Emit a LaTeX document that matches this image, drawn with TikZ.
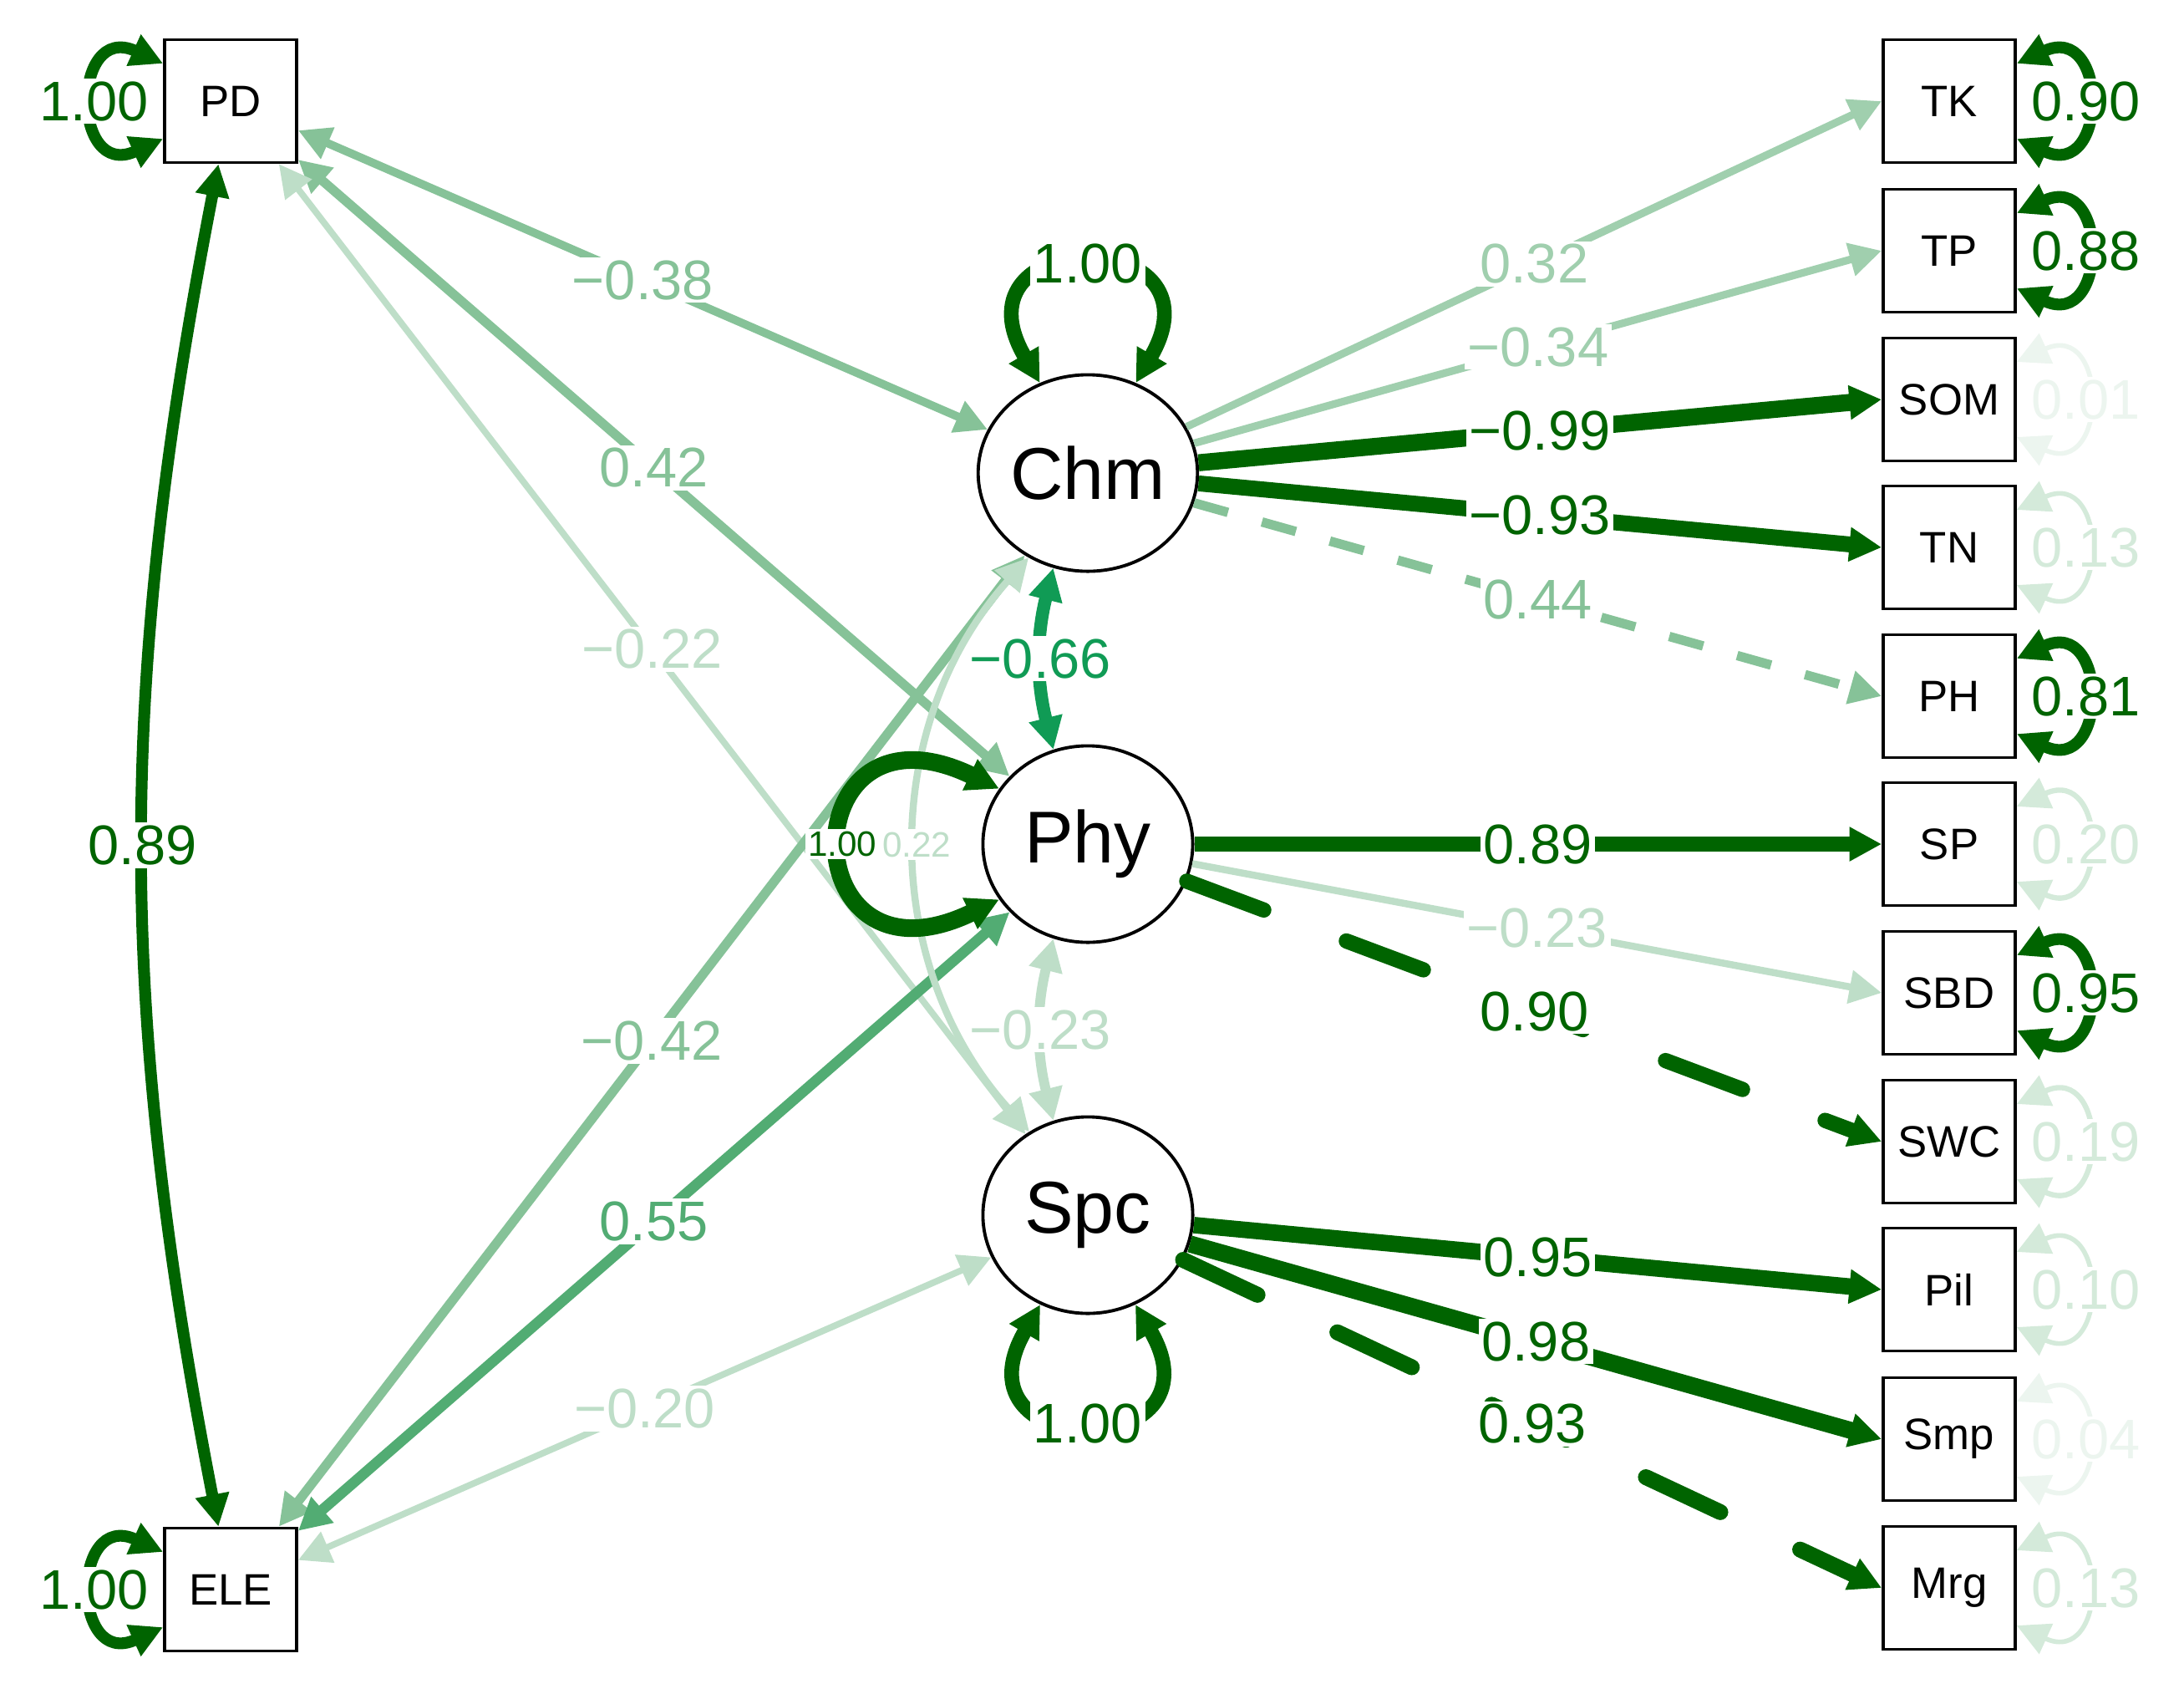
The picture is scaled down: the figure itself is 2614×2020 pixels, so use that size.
\documentclass[tikz,border=0pt]{standalone}
\usepackage{fontspec}
\setmainfont{Liberation Sans}
\usetikzlibrary{arrows.meta}
\usetikzlibrary{shapes.geometric}
\definecolor{dk}{RGB}{0,100,0}
\definecolor{c6}{RGB}{16,155,85}
\definecolor{c5}{RGB}{82,172,115}
\definecolor{c4}{RGB}{134,194,152}
\definecolor{c3}{RGB}{160,207,174}
\definecolor{c2}{RGB}{190,222,200}
\definecolor{c1}{RGB}{212,234,218}
\definecolor{c0}{RGB}{236,245,239}
\tikzset{>={Triangle[length=11pt,width=11pt]}}
\tikzset{
  obs/.style={draw, line width=1pt, fill=white, minimum width=1.58cm,
    minimum height=1.47cm, font=\fontsize{15}{15}\selectfont},
  lat/.style={draw, ellipse, line width=1.1pt, fill=white, inner sep=0pt,
    minimum width=2.51cm, minimum height=2.35cm, font=\fontsize{25}{25}\selectfont},
  lbl/.style={fill=white, inner sep=1pt, font=\fontsize{19}{19}\selectfont},
  sml/.style={fill=white, inner sep=1pt, font=\fontsize{12}{12}\selectfont},
  dashA/.style={dash pattern=on 12pt off 12pt},
  dashB/.style={dash pattern=on 28pt off 30pt, line cap=round},
}

\begin{document}
\begin{tikzpicture}[x=0.01cm, y=-0.01cm]

	\useasboundingbox (0,0) rectangle (2614,2020);

	% Manifest
	\node[obs] (pd) at (276,121) {PD};
	\node[obs] (ele) at (276,1902) {ELE};
	\foreach \n/\t/\y in {tk/TK/121, tp/TP/300, som/SOM/478, tn/TN/655,
		ph/PH/833, sp/SP/1010, sbd/SBD/1188, swc/SWC/1366,
		pil/Pil/1543, smp/Smp/1722, mrg/Mrg/1900}
	{
	\node[obs] (\n) at (2333,\y) {\t};
	}

	% Latent
	\node[lat] (chm) at (1302,566) {Chm};
	\node[lat] (phy) at (1302,1010) {Phy};
	\node[lat] (spc) at (1302,1454) {Spc};

	%% Covariances
	\draw[<->, dk, line width=4pt] (pd) to[bend right=11] node[lbl, text=dk, pos=.5] {0.89} (ele);
	\foreach \a/\b/\v/\c/\w in {pd/chm/−0.38/c4/2.8pt, pd/phy/0.42/c4/3.2pt,
		pd/spc/−0.22/c2/2.2pt, ele/chm/−0.42/c4/3.2pt, ele/phy/0.55/c5/3.6pt,
		ele/spc/−0.20/c2/2.2pt}
	{
	\draw[<->, draw=\c, line width=\w] (\a) -- (\b) node[lbl, text=\c, pos=.5] {\v};
	}
	\draw[<->, c6, line width=4.4pt] (chm.250) to[bend right=14] node[lbl, text=c6, pos=.5] {−0.66} (phy.110);
	\draw[<->, c2, line width=3.4pt] (phy.250) to[bend right=14] node[lbl, text=c2, pos=.5] {−0.23} (spc.110);
	\draw[<->, c2, line width=2.4pt] (chm.235) to[bend right=42] node[sml, text=c2, pos=.5] {0.22} (spc.125);

	%% Loadings
	\foreach \a/\b/\v/\c/\w/\s in {chm/tk/0.32/c3/2.6pt/solid, chm/tp/−0.34/c3/2.6pt/solid,
		chm/som/−0.99/dk/5.8pt/solid, chm/tn/−0.93/dk/5.4pt/solid,
		chm/ph/0.44/c4/3.2pt/dashA, phy/sp/0.89/dk/5pt/solid,
		phy/sbd/−0.23/c2/2.4pt/solid, phy/swc/0.90/dk/5.2pt/dashB,
		spc/pil/0.95/dk/5.6pt/solid, spc/smp/0.98/dk/5.8pt/solid,
		spc/mrg/0.93/dk/5.4pt/dashB}
	{
	\draw[->, draw=\c, line width=\w, \s] (\a) -- (\b.west) node[lbl, text=\c, pos=.5] {\v};
	}

	%% Variances
	\foreach \n/\v/\c/\w in {tk/0.90/dk/4pt, tp/0.88/dk/4pt, som/0.01/c0/1.6pt,
		tn/0.13/c1/1.6pt, ph/0.81/dk/4pt, sp/0.20/c1/1.8pt, sbd/0.95/dk/4pt,
		swc/0.19/c1/1.8pt, pil/0.10/c1/1.6pt, smp/0.04/c0/1.6pt, mrg/0.13/c1/1.6pt}
	{
	\draw[<->, draw=\c, line width=\w] ([yshift=4.5mm]\n.east)
		.. controls +(1.1cm,0.5cm) and +(1.1cm,-0.5cm) .. ([yshift=-4.5mm]\n.east)
		node[lbl, text=\c, pos=.5] {\v};
	}
	\foreach \n in {pd,ele}
	{
	\draw[<->, dk, line width=4pt] ([yshift=4.5mm]\n.west)
		.. controls +(-1.1cm,0.5cm) and +(-1.1cm,-0.5cm) .. ([yshift=-4.5mm]\n.west)
		node[lbl, text=dk, pos=.5] {1.00};
	}
	\draw[<->, dk, line width=5pt] (chm.118) .. controls +(-1.1cm,1.9cm) and +(1.1cm,1.9cm) .. (chm.62)
		node[lbl, text=dk, pos=.5] {1.00};
	\draw[<->, dk, line width=5pt] (spc.242) .. controls +(-1.1cm,-1.9cm) and +(1.1cm,-1.9cm) .. (spc.298)
		node[lbl, text=dk, pos=.5] {1.00};
	\draw[<->, dk, line width=6pt] (phy.148) .. controls +(-2.5cm,1.2cm) and +(-2.5cm,-1.2cm) .. (phy.212)
		node[sml, text=dk, pos=.5] {1.00};

\end{tikzpicture}
\end{document}
